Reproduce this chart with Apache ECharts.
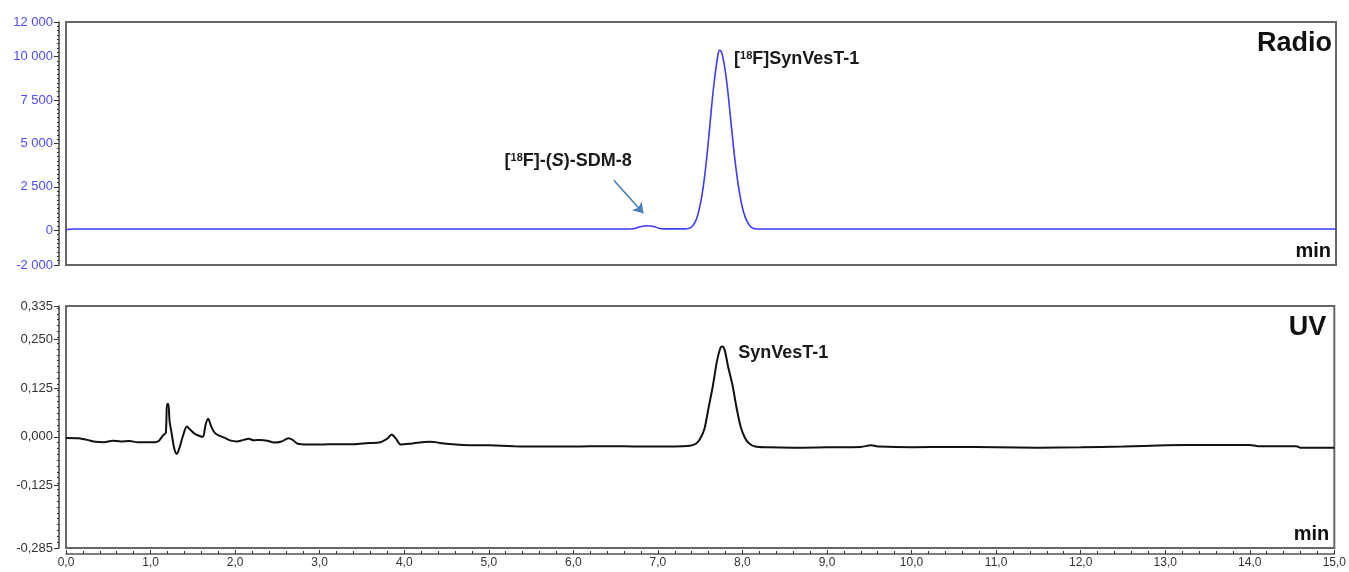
<!DOCTYPE html>
<html>
<head>
<meta charset="utf-8">
<script src="https://cdn.jsdelivr.net/npm/echarts@6/dist/echarts.min.js"></script>
<style>
html,body{margin:0;padding:0;background:#fff;}
#c{width:1349px;height:572px;}
</style>
</head>
<body>
<div id="c"></div>
<script>
// ---- data ----
const radioTime   = [0.00,0.03,0.10,1.00,3.00,5.00,6.60,6.70,6.78,6.86,6.94,7.00,7.05,7.30,7.35,7.40,7.45,7.50,7.55,7.60,7.65,7.70,7.72,7.75,7.80,7.85,7.90,7.95,8.00,8.05,8.10,8.15,10.00,12.00,15.00];
const radioSignal = [0,60,70,70,70,70,70,90,200,260,220,120,80,80,100,250,700,1700,3400,5800,8300,10100,10370,10150,8700,6400,4100,2300,1100,450,150,80,70,70,70];

const uvTime   = [0.00,0.15,0.25,0.35,0.45,0.55,0.65,0.75,0.85,1.05,1.10,1.15,1.18,1.195,1.21,1.225,1.25,1.28,1.31,1.34,1.38,1.43,1.47,1.52,1.58,1.62,1.65,1.68,1.72,1.76,1.82,1.88,1.95,2.02,2.10,2.16,2.22,2.30,2.38,2.46,2.55,2.63,2.68,2.74,2.85,3.00,3.20,3.40,3.58,3.70,3.80,3.85,3.90,3.96,4.10,4.30,4.50,4.70,5.00,5.30,5.60,6.00,6.40,6.80,7.20,7.38,7.45,7.50,7.55,7.60,7.65,7.70,7.74,7.76,7.79,7.83,7.88,7.93,7.98,8.03,8.08,8.15,8.30,8.60,9.00,9.40,9.52,9.62,10.00,10.50,11.00,11.50,12.00,12.50,13.00,13.50,14.00,14.10,14.55,14.60,15.00];
const uvSignal = [-0.003,-0.004,-0.008,-0.013,-0.014,-0.010,-0.012,-0.011,-0.014,-0.014,-0.010,0.004,0.010,0.084,0.084,0.040,0.008,-0.030,-0.044,-0.030,0.000,0.026,0.018,0.008,0.002,0.000,0.030,0.046,0.025,0.010,0.002,-0.003,-0.010,-0.012,-0.008,-0.005,-0.009,-0.008,-0.010,-0.015,-0.012,-0.004,-0.008,-0.018,-0.020,-0.020,-0.019,-0.019,-0.016,-0.015,-0.005,0.006,-0.004,-0.020,-0.017,-0.013,-0.018,-0.021,-0.022,-0.024,-0.025,-0.025,-0.024,-0.025,-0.025,-0.023,-0.018,-0.005,0.020,0.075,0.130,0.195,0.228,0.231,0.222,0.180,0.135,0.075,0.025,-0.003,-0.017,-0.025,-0.027,-0.028,-0.027,-0.026,-0.022,-0.025,-0.027,-0.026,-0.027,-0.028,-0.027,-0.025,-0.022,-0.021,-0.021,-0.024,-0.024,-0.028,-0.028];

const radioTicks = [12000,10000,7500,5000,2500,0,-2000];
const uvTicks    = [0.335,0.250,0.125,0.000,-0.125,-0.285];

const radioMin = -2000, radioMax = 12000;
const uvMin = -0.285, uvMax = 0.335;
const timeMin = 0, timeMax = 15;

const zip = (a, b) => a.map((v, i) => [v, b[i]]);

const chart = echarts.init(document.getElementById('c'), null, {renderer: 'canvas'});

const FONT = '"Liberation Sans", Arial, sans-serif';
const fmtRadio = v => {
  const s = Math.abs(v).toString().replace(/\B(?=(\d{3})+(?!\d))/g, ' ');
  return (v < 0 ? '-' : '') + s;
};
const fmtUv = v => (v < 0 ? '-' : '') + Math.abs(v).toFixed(3).replace('.', ',');

const yLine = {show: true, onZero: false, lineStyle: {color: '#444', width: 1.5}};

const option = {
  animation: false,
  backgroundColor: '#fff',
  grid: [
    {left: 66, right: 13, top: 22, height: 243, show: true, borderColor: '#666', borderWidth: 2, backgroundColor: '#fff'},
    {left: 66, right: 13, top: 306, height: 242, show: true, borderColor: '#666', borderWidth: 2, backgroundColor: '#fff'}
  ],
  xAxis: [
    {type: 'value', gridIndex: 0, min: timeMin, max: timeMax, show: false},
    {type: 'value', gridIndex: 1, min: timeMin, max: timeMax, interval: 1, position: 'bottom', offset: 6,
     axisLine: {show: true, onZero: false, lineStyle: {color: '#555', width: 1.5}},
     axisTick: {show: true, inside: true, length: 4, lineStyle: {color: '#333'}},
     minorTick: {show: true, splitNumber: 5, length: 3, lineStyle: {color: '#333'}},
     splitLine: {show: false},
     axisLabel: {show: true, margin: 3, color: '#333', fontFamily: FONT, fontSize: 12,
       showMinLabel: true, showMaxLabel: true,
       formatter: v => v.toFixed(1).replace('.', ',')}}
  ],
  yAxis: [
    {type: 'value', gridIndex: 0, min: radioMin, max: radioMax, position: 'left', offset: 7,
     axisLine: yLine,
     axisTick: {show: true, length: 5, customValues: radioTicks, lineStyle: {color: '#333'}},
     axisLabel: {show: true, customValues: radioTicks, margin: 6, color: '#4b4bff', fontFamily: FONT, fontSize: 13, formatter: fmtRadio},
     splitLine: {show: false}},
    {type: 'value', gridIndex: 0, min: radioMin, max: radioMax, interval: 250, position: 'left', offset: 7,
     axisLine: {show: false, onZero: false}, axisLabel: {show: false}, splitLine: {show: false},
     axisTick: {show: true, length: 2, lineStyle: {color: '#333'}}},
    {type: 'value', gridIndex: 1, min: uvMin, max: uvMax, position: 'left', offset: 7,
     axisLine: yLine,
     axisTick: {show: true, length: 5, customValues: uvTicks, lineStyle: {color: '#333'}},
     axisLabel: {show: true, customValues: uvTicks, margin: 6, color: '#333', fontFamily: FONT, fontSize: 13, formatter: fmtUv},
     splitLine: {show: false}},
    {type: 'value', gridIndex: 1, min: uvMin, max: uvMax, interval: 0.015, position: 'left', offset: 7,
     axisLine: {show: false, onZero: false}, axisLabel: {show: false}, splitLine: {show: false},
     axisTick: {show: true, length: 2, lineStyle: {color: '#333'}}}
  ],
  series: [
    {type: 'line', name: 'Radio', xAxisIndex: 0, yAxisIndex: 0, data: zip(radioTime, radioSignal),
     showSymbol: false, smooth: 0.4,
     lineStyle: {color: '#3c3cff', width: 1.6}, z: 3,
     markLine: {silent: true, symbol: ['none', 'arrow'], symbolSize: 10,
       lineStyle: {color: '#4a7ebb', width: 1.6, type: 'solid'}, label: {show: false},
       data: [[{coord: [6.47, 2880]}, {coord: [6.82, 980]}]]}},
    {type: 'line', name: 'UV', xAxisIndex: 1, yAxisIndex: 2, data: zip(uvTime, uvSignal),
     showSymbol: false, smooth: 0.3,
     lineStyle: {color: '#111', width: 2}, z: 3}
  ]
};
chart.setOption(option);

function buildGraphics() {
  const pR = (x, y) => chart.convertToPixel({gridIndex: 0}, [x, y]);
  const pU = (x, y) => chart.convertToPixel({gridIndex: 1}, [x, y]);
  const bold = (size) => `bold ${size}px ${FONT}`;
  const richBase = {
    a:   {fontFamily: FONT, fontWeight: 'bold', fontSize: 18, fill: '#1a1a1a'},
    sup: {fontFamily: FONT, fontWeight: 'bold', fontSize: 11, fill: '#1a1a1a', padding: [0, 0, 7, 0]},
    it:  {fontFamily: FONT, fontWeight: 'bold', fontStyle: 'italic', fontSize: 18, fill: '#1a1a1a'}
  };
  const tR = pR(timeMax, radioMax);
  const bR = pR(timeMax, radioMin);
  const tU = pU(timeMax, uvMax);
  const bU = pU(timeMax, uvMin);
  const main = pR(7.89, 10370);
  const sdm = pR(5.18, 4490);
  const uvl = pU(7.95, 0.238);
  const els = [
    {type: 'text', x: tR[0] - 4, y: tR[1] + 8, style: {text: 'Radio', font: bold(27), fill: '#111', align: 'right', verticalAlign: 'top'}},
    {type: 'text', x: bR[0] - 5, y: bR[1] - 4, style: {text: 'min', font: bold(20), fill: '#111', align: 'right', verticalAlign: 'bottom'}},
    {type: 'text', x: tU[0] - 8, y: tU[1] + 8, style: {text: 'UV', font: bold(27), fill: '#111', align: 'right', verticalAlign: 'top'}},
    {type: 'text', x: bU[0] - 5, y: bU[1] - 4, style: {text: 'min', font: bold(20), fill: '#111', align: 'right', verticalAlign: 'bottom'}},
    {type: 'text', x: main[0], y: main[1], style: {text: '{a|[}{sup|18}{a|F]SynVesT-1}', rich: richBase, align: 'left', verticalAlign: 'top'}},
    {type: 'text', x: sdm[0], y: sdm[1], style: {text: '{a|[}{sup|18}{a|F]-(}{it|S}{a|)-SDM-8}', rich: richBase, align: 'left', verticalAlign: 'top'}},
    {type: 'text', x: uvl[0], y: uvl[1], style: {text: 'SynVesT-1', font: bold(18), fill: '#1a1a1a', align: 'left', verticalAlign: 'top'}}
  ];
  chart.setOption({graphic: {elements: els}});
}
buildGraphics();
</script>
</body>
</html>
